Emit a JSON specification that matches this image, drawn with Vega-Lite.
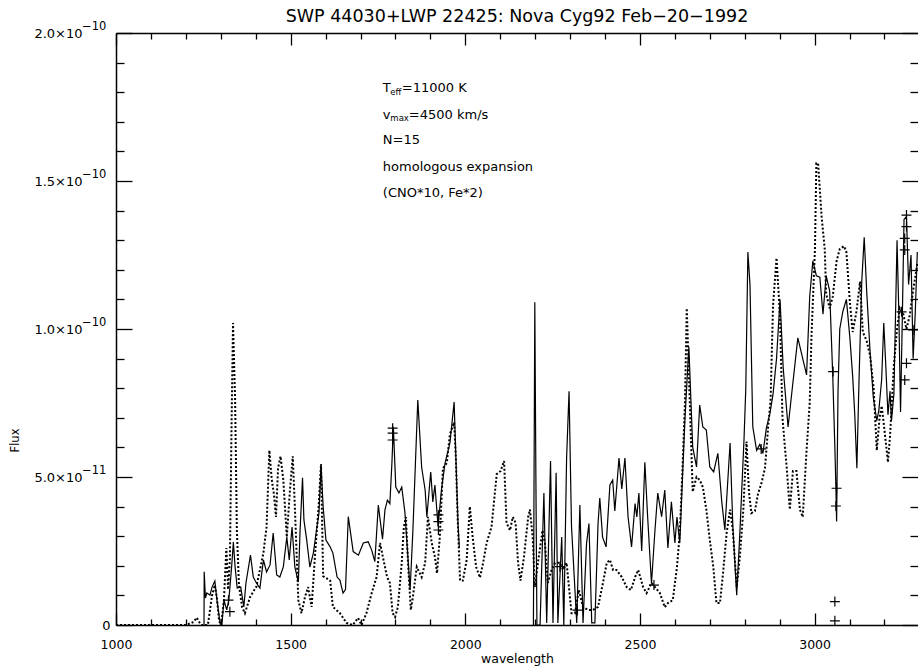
{
  "$schema": "https://vega.github.io/schema/vega-lite/v6.json",
  "width": 802,
  "height": 592,
  "autosize": {"type": "none"},
  "padding": {"left": 116, "top": 33, "right": 0, "bottom": 44},
  "background": "white",
  "title": {
    "text": "SWP 44030+LWP 22425: Nova Cyg92 Feb−20−1992",
    "anchor": "middle",
    "font": "DejaVu Sans",
    "fontSize": 17.5,
    "fontWeight": "normal",
    "color": "black",
    "baseline": "alphabetic",
    "offset": -18
  },
  "config": {
    "view": {"stroke": null},
    "axis": {
      "grid": false,
      "domainColor": "black",
      "tickColor": "black",
      "labelColor": "black",
      "titleColor": "black",
      "labelFont": "DejaVu Sans",
      "titleFont": "DejaVu Sans",
      "titleFontWeight": "normal",
      "labelFlush": false,
      "labelOverlap": false,
      "domainWidth": 1.5,
      "tickWidth": 1.3
    }
  },
  "datasets": {
    "model": [
      {"wl":1000,"flux":0},{"wl":1100,"flux":0},{"wl":1200,"flux":0},{"wl":1222,"flux":1e-12},{"wl":1231,"flux":2.5e-12},{"wl":1238,"flux":1e-12},{"wl":1245,"flux":0},{"wl":1263,"flux":0},{"wl":1275,"flux":1.0e-11},{"wl":1283,"flux":1.35e-11},{"wl":1289,"flux":9e-12},{"wl":1295,"flux":1.5e-12},{"wl":1300,"flux":0},{"wl":1305,"flux":4e-12},{"wl":1309,"flux":8.5e-12},{"wl":1316,"flux":2.6e-11},{"wl":1321,"flux":1.2e-11},{"wl":1326,"flux":2.2e-11},{"wl":1331,"flux":6.93e-11},{"wl":1335,"flux":1.02e-10},{"wl":1341,"flux":7.6e-11},{"wl":1346,"flux":3.2e-11},{"wl":1352,"flux":1.35e-11},{"wl":1361,"flux":6e-12},{"wl":1369,"flux":4e-12},{"wl":1384,"flux":9.5e-12},{"wl":1402,"flux":1.3e-11},{"wl":1412,"flux":1.86e-11},{"wl":1422,"flux":2.43e-11},{"wl":1431,"flux":3.31e-11},{"wl":1439,"flux":5.9e-11},{"wl":1446,"flux":4.9e-11},{"wl":1452,"flux":4.43e-11},{"wl":1458,"flux":3.65e-11},{"wl":1464,"flux":5.3e-11},{"wl":1471,"flux":5.7e-11},{"wl":1479,"flux":4.9e-11},{"wl":1489,"flux":2.97e-11},{"wl":1498,"flux":4.56e-11},{"wl":1506,"flux":5.7e-11},{"wl":1512,"flux":4.0e-11},{"wl":1522,"flux":8.4e-12},{"wl":1531,"flux":4e-12},{"wl":1541,"flux":9.5e-12},{"wl":1550,"flux":1.28e-11},{"wl":1560,"flux":6.1e-12},{"wl":1570,"flux":2.4e-11},{"wl":1580,"flux":4.0e-11},{"wl":1587,"flux":5.44e-11},{"wl":1593,"flux":1.65e-11},{"wl":1613,"flux":1.5e-11},{"wl":1621,"flux":6.1e-12},{"wl":1641,"flux":4e-12},{"wl":1660,"flux":7e-13},{"wl":1678,"flux":0},{"wl":1693,"flux":2.4e-12},{"wl":1703,"flux":0},{"wl":1717,"flux":4e-12},{"wl":1732,"flux":1.08e-11},{"wl":1746,"flux":1.62e-11},{"wl":1756,"flux":2.77e-11},{"wl":1764,"flux":2.3e-11},{"wl":1776,"flux":1.62e-11},{"wl":1784,"flux":1.42e-11},{"wl":1792,"flux":4e-12},{"wl":1799,"flux":2.7e-12},{"wl":1807,"flux":6.1e-12},{"wl":1818,"flux":2.1e-11},{"wl":1824,"flux":3.31e-11},{"wl":1830,"flux":3.65e-11},{"wl":1836,"flux":2.1e-11},{"wl":1844,"flux":5.1e-12},{"wl":1850,"flux":9.5e-12},{"wl":1861,"flux":1.96e-11},{"wl":1875,"flux":1.62e-11},{"wl":1885,"flux":2.1e-11},{"wl":1893,"flux":3.65e-11},{"wl":1904,"flux":2.77e-11},{"wl":1913,"flux":2.3e-11},{"wl":1919,"flux":1.75e-11},{"wl":1927,"flux":2.97e-11},{"wl":1936,"flux":5.3e-11},{"wl":1947,"flux":5.47e-11},{"wl":1956,"flux":6.45e-11},{"wl":1968,"flux":6.85e-11},{"wl":1973,"flux":5.64e-11},{"wl":1978,"flux":3.65e-11},{"wl":1985,"flux":1.5e-11},{"wl":1993,"flux":1.5e-11},{"wl":2004,"flux":2.2e-11},{"wl":2013,"flux":4.0e-11},{"wl":2021,"flux":2.97e-11},{"wl":2031,"flux":1.96e-11},{"wl":2042,"flux":1.6e-11},{"wl":2051,"flux":2.1e-11},{"wl":2061,"flux":2.77e-11},{"wl":2075,"flux":3.31e-11},{"wl":2090,"flux":5.1e-11},{"wl":2101,"flux":5.2e-11},{"wl":2111,"flux":5.54e-11},{"wl":2118,"flux":3.45e-11},{"wl":2128,"flux":3.2e-11},{"wl":2136,"flux":3.65e-11},{"wl":2144,"flux":3.45e-11},{"wl":2151,"flux":2.1e-11},{"wl":2158,"flux":1.5e-11},{"wl":2168,"flux":2.3e-11},{"wl":2180,"flux":3.65e-11},{"wl":2185,"flux":3.9e-11},{"wl":2193,"flux":2.97e-11},{"wl":2199,"flux":1.28e-11},{"wl":2208,"flux":2.1e-11},{"wl":2221,"flux":3.2e-11},{"wl":2228,"flux":2.77e-11},{"wl":2236,"flux":1.42e-11},{"wl":2247,"flux":1.86e-11},{"wl":2257,"flux":2.1e-11},{"wl":2271,"flux":2.1e-11},{"wl":2280,"flux":1.86e-11},{"wl":2290,"flux":2.1e-11},{"wl":2304,"flux":4e-12},{"wl":2314,"flux":4e-12},{"wl":2325,"flux":1.18e-11},{"wl":2337,"flux":6.1e-12},{"wl":2351,"flux":5.1e-12},{"wl":2365,"flux":5.1e-12},{"wl":2380,"flux":6.1e-12},{"wl":2394,"flux":1.42e-11},{"wl":2405,"flux":2.1e-11},{"wl":2414,"flux":2.2e-11},{"wl":2423,"flux":1.86e-11},{"wl":2433,"flux":1.86e-11},{"wl":2448,"flux":1.62e-11},{"wl":2462,"flux":1.28e-11},{"wl":2474,"flux":1.18e-11},{"wl":2486,"flux":1.62e-11},{"wl":2495,"flux":1.86e-11},{"wl":2509,"flux":1.28e-11},{"wl":2519,"flux":1.08e-11},{"wl":2533,"flux":1.42e-11},{"wl":2543,"flux":1.28e-11},{"wl":2557,"flux":1.08e-11},{"wl":2571,"flux":6e-12},{"wl":2580,"flux":7.4e-12},{"wl":2594,"flux":8.4e-12},{"wl":2606,"flux":1.96e-11},{"wl":2614,"flux":3.1e-11},{"wl":2622,"flux":5.34e-11},{"wl":2629,"flux":7.6e-11},{"wl":2634,"flux":1.07e-10},{"wl":2643,"flux":7.4e-11},{"wl":2651,"flux":4.5e-11},{"wl":2662,"flux":5.0e-11},{"wl":2671,"flux":4.9e-11},{"wl":2680,"flux":4.66e-11},{"wl":2690,"flux":3.9e-11},{"wl":2700,"flux":2.87e-11},{"wl":2710,"flux":1.96e-11},{"wl":2719,"flux":7.4e-12},{"wl":2729,"flux":7.4e-12},{"wl":2738,"flux":1.76e-11},{"wl":2748,"flux":3.1e-11},{"wl":2758,"flux":3.9e-11},{"wl":2766,"flux":3.2e-11},{"wl":2777,"flux":1.28e-11},{"wl":2786,"flux":2.3e-11},{"wl":2796,"flux":3.9e-11},{"wl":2805,"flux":6.2e-11},{"wl":2812,"flux":4.5e-11},{"wl":2819,"flux":3.78e-11},{"wl":2829,"flux":3.85e-11},{"wl":2838,"flux":4.43e-11},{"wl":2848,"flux":4.8e-11},{"wl":2858,"flux":5.3e-11},{"wl":2867,"flux":6.7e-11},{"wl":2874,"flux":7.6e-11},{"wl":2881,"flux":1.08e-10},{"wl":2891,"flux":1.24e-10},{"wl":2901,"flux":1.04e-10},{"wl":2908,"flux":7.0e-11},{"wl":2915,"flux":6.0e-11},{"wl":2920,"flux":5.34e-11},{"wl":2929,"flux":3.9e-11},{"wl":2938,"flux":5.2e-11},{"wl":2948,"flux":5.2e-11},{"wl":2958,"flux":3.9e-11},{"wl":2966,"flux":3.65e-11},{"wl":2977,"flux":5.9e-11},{"wl":2986,"flux":7.5e-11},{"wl":2991,"flux":9.74e-11},{"wl":3001,"flux":1.27e-10},{"wl":3005,"flux":1.56e-10},{"wl":3010,"flux":1.56e-10},{"wl":3020,"flux":1.38e-10},{"wl":3029,"flux":1.27e-10},{"wl":3033,"flux":1.12e-10},{"wl":3043,"flux":1.07e-10},{"wl":3052,"flux":1.11e-10},{"wl":3063,"flux":1.23e-10},{"wl":3072,"flux":1.27e-10},{"wl":3084,"flux":1.28e-10},{"wl":3091,"flux":1.26e-10},{"wl":3101,"flux":1.09e-10},{"wl":3109,"flux":9.9e-11},{"wl":3120,"flux":1.06e-10},{"wl":3130,"flux":1.16e-10},{"wl":3138,"flux":9.9e-11},{"wl":3149,"flux":9.6e-11},{"wl":3159,"flux":9.1e-11},{"wl":3169,"flux":8.0e-11},{"wl":3178,"flux":5.9e-11},{"wl":3186,"flux":7.0e-11},{"wl":3192,"flux":7.4e-11},{"wl":3198,"flux":6.8e-11},{"wl":3210,"flux":5.5e-11},{"wl":3216,"flux":6.4e-11},{"wl":3227,"flux":8.8e-11},{"wl":3236,"flux":1.0e-10},{"wl":3244,"flux":1.07e-10},{"wl":3254,"flux":1.05e-10},{"wl":3263,"flux":1.0e-10},{"wl":3273,"flux":1.05e-10},{"wl":3282,"flux":1.13e-10},{"wl":3294,"flux":1.22e-10}
    ],
    "obs": [
      {"seg":"SWP","wl":1252,"flux":0},{"seg":"SWP","wl":1252.5,"flux":1.8e-11},{"seg":"SWP","wl":1256,"flux":9.1e-12},{"seg":"SWP","wl":1260,"flux":1.08e-11},{"seg":"SWP","wl":1269,"flux":1.01e-11},{"seg":"SWP","wl":1275,"flux":1.28e-11},{"seg":"SWP","wl":1283,"flux":1.49e-11},{"seg":"SWP","wl":1289,"flux":8.4e-12},{"seg":"SWP","wl":1298,"flux":7e-13},{"seg":"SWP","wl":1303,"flux":0},{"seg":"SWP","wl":1309,"flux":8.4e-12},{"seg":"SWP","wl":1317,"flux":5.1e-12},{"seg":"SWP","wl":1323,"flux":8.4e-12},{"seg":"SWP","wl":1331,"flux":1.96e-11},{"seg":"SWP","wl":1336,"flux":2.8e-11},{"seg":"SWP","wl":1341,"flux":1.96e-11},{"seg":"SWP","wl":1347,"flux":1.25e-11},{"seg":"SWP","wl":1357,"flux":1.28e-11},{"seg":"SWP","wl":1366,"flux":6.1e-12},{"seg":"SWP","wl":1372,"flux":1.42e-11},{"seg":"SWP","wl":1385,"flux":2.36e-11},{"seg":"SWP","wl":1393,"flux":1.62e-11},{"seg":"SWP","wl":1402,"flux":1.42e-11},{"seg":"SWP","wl":1412,"flux":1.25e-11},{"seg":"SWP","wl":1422,"flux":2.2e-11},{"seg":"SWP","wl":1431,"flux":1.79e-11},{"seg":"SWP","wl":1441,"flux":2.03e-11},{"seg":"SWP","wl":1450,"flux":3.11e-11},{"seg":"SWP","wl":1460,"flux":1.69e-11},{"seg":"SWP","wl":1469,"flux":1.62e-11},{"seg":"SWP","wl":1479,"flux":1.96e-11},{"seg":"SWP","wl":1489,"flux":2.97e-11},{"seg":"SWP","wl":1496,"flux":2.2e-11},{"seg":"SWP","wl":1504,"flux":3.31e-11},{"seg":"SWP","wl":1512,"flux":1.96e-11},{"seg":"SWP","wl":1522,"flux":1.45e-11},{"seg":"SWP","wl":1527,"flux":3.2e-11},{"seg":"SWP","wl":1534,"flux":4.97e-11},{"seg":"SWP","wl":1538,"flux":3.55e-11},{"seg":"SWP","wl":1546,"flux":2.87e-11},{"seg":"SWP","wl":1555,"flux":1.96e-11},{"seg":"SWP","wl":1565,"flux":2.43e-11},{"seg":"SWP","wl":1574,"flux":3.2e-11},{"seg":"SWP","wl":1581,"flux":3.78e-11},{"seg":"SWP","wl":1587,"flux":5.4e-11},{"seg":"SWP","wl":1593,"flux":4.0e-11},{"seg":"SWP","wl":1601,"flux":2.87e-11},{"seg":"SWP","wl":1613,"flux":2.64e-11},{"seg":"SWP","wl":1621,"flux":2.43e-11},{"seg":"SWP","wl":1633,"flux":1.62e-11},{"seg":"SWP","wl":1641,"flux":1.52e-11},{"seg":"SWP","wl":1650,"flux":1.08e-11},{"seg":"SWP","wl":1657,"flux":1.2e-11},{"seg":"SWP","wl":1665,"flux":3.66e-11},{"seg":"SWP","wl":1679,"flux":2.48e-11},{"seg":"SWP","wl":1694,"flux":2.36e-11},{"seg":"SWP","wl":1708,"flux":2.77e-11},{"seg":"SWP","wl":1722,"flux":2.81e-11},{"seg":"SWP","wl":1732,"flux":2.53e-11},{"seg":"SWP","wl":1741,"flux":2.14e-11},{"seg":"SWP","wl":1751,"flux":4.05e-11},{"seg":"SWP","wl":1763,"flux":2.9e-11},{"seg":"SWP","wl":1770,"flux":3.89e-11},{"seg":"SWP","wl":1777,"flux":4.22e-11},{"seg":"SWP","wl":1784,"flux":4.1e-11},{"seg":"SWP","wl":1790,"flux":5.5e-11},{"seg":"SWP","wl":1794,"flux":6.7e-11},{"seg":"SWP","wl":1801,"flux":4.66e-11},{"seg":"SWP","wl":1810,"flux":4.46e-11},{"seg":"SWP","wl":1818,"flux":4.66e-11},{"seg":"SWP","wl":1827,"flux":3.82e-11},{"seg":"SWP","wl":1842,"flux":1.18e-11},{"seg":"SWP","wl":1850,"flux":3.21e-11},{"seg":"SWP","wl":1864,"flux":7.6e-11},{"seg":"SWP","wl":1875,"flux":5.33e-11},{"seg":"SWP","wl":1885,"flux":4.56e-11},{"seg":"SWP","wl":1890,"flux":3.65e-11},{"seg":"SWP","wl":1901,"flux":5.17e-11},{"seg":"SWP","wl":1907,"flux":4.16e-11},{"seg":"SWP","wl":1913,"flux":4.73e-11},{"seg":"SWP","wl":1922,"flux":3.34e-11},{"seg":"SWP","wl":1932,"flux":4.6e-11},{"seg":"SWP","wl":1942,"flux":5.47e-11},{"seg":"SWP","wl":1956,"flux":6.15e-11},{"seg":"SWP","wl":1968,"flux":7.53e-11},{"seg":"SWP","wl":1979,"flux":3.45e-11},{"seg":"SWP","wl":1983,"flux":2.6e-11},
      {"seg":"LWP","wl":2195,"flux":0},{"seg":"LWP","wl":2199,"flux":1.09e-10},{"seg":"LWP","wl":2202,"flux":5.1e-11},{"seg":"LWP","wl":2205,"flux":0},{"seg":"LWP","wl":2214,"flux":0},{"seg":"LWP","wl":2225,"flux":4.46e-11},{"seg":"LWP","wl":2233,"flux":7e-13},{"seg":"LWP","wl":2244,"flux":5.54e-11},{"seg":"LWP","wl":2251,"flux":7e-13},{"seg":"LWP","wl":2260,"flux":5.14e-11},{"seg":"LWP","wl":2265,"flux":7e-13},{"seg":"LWP","wl":2276,"flux":2.97e-11},{"seg":"LWP","wl":2282,"flux":0},{"seg":"LWP","wl":2290,"flux":5.64e-11},{"seg":"LWP","wl":2297,"flux":7.9e-11},{"seg":"LWP","wl":2304,"flux":3.34e-11},{"seg":"LWP","wl":2319,"flux":7e-13},{"seg":"LWP","wl":2328,"flux":4.05e-11},{"seg":"LWP","wl":2337,"flux":7e-13},{"seg":"LWP","wl":2347,"flux":2.74e-11},{"seg":"LWP","wl":2354,"flux":3.43e-11},{"seg":"LWP","wl":2362,"flux":7e-13},{"seg":"LWP","wl":2371,"flux":7e-13},{"seg":"LWP","wl":2380,"flux":3.43e-11},{"seg":"LWP","wl":2385,"flux":4.29e-11},{"seg":"LWP","wl":2393,"flux":2.97e-11},{"seg":"LWP","wl":2403,"flux":2.64e-11},{"seg":"LWP","wl":2414,"flux":4.73e-11},{"seg":"LWP","wl":2422,"flux":4.9e-11},{"seg":"LWP","wl":2428,"flux":3.85e-11},{"seg":"LWP","wl":2440,"flux":5.64e-11},{"seg":"LWP","wl":2448,"flux":4.6e-11},{"seg":"LWP","wl":2457,"flux":5.64e-11},{"seg":"LWP","wl":2466,"flux":3.65e-11},{"seg":"LWP","wl":2476,"flux":2.64e-11},{"seg":"LWP","wl":2486,"flux":4.1e-11},{"seg":"LWP","wl":2491,"flux":3.65e-11},{"seg":"LWP","wl":2497,"flux":4.46e-11},{"seg":"LWP","wl":2505,"flux":2.5e-11},{"seg":"LWP","wl":2514,"flux":5.5e-11},{"seg":"LWP","wl":2522,"flux":3.65e-11},{"seg":"LWP","wl":2533,"flux":1.4e-11},{"seg":"LWP","wl":2543,"flux":3.21e-11},{"seg":"LWP","wl":2551,"flux":4.46e-11},{"seg":"LWP","wl":2562,"flux":3.66e-11},{"seg":"LWP","wl":2571,"flux":4.56e-11},{"seg":"LWP","wl":2580,"flux":2.6e-11},{"seg":"LWP","wl":2590,"flux":4.16e-11},{"seg":"LWP","wl":2600,"flux":2.77e-11},{"seg":"LWP","wl":2606,"flux":3.65e-11},{"seg":"LWP","wl":2614,"flux":2.77e-11},{"seg":"LWP","wl":2623,"flux":5.34e-11},{"seg":"LWP","wl":2629,"flux":7.0e-11},{"seg":"LWP","wl":2640,"flux":9.4e-11},{"seg":"LWP","wl":2651,"flux":6.01e-11},{"seg":"LWP","wl":2662,"flux":5.34e-11},{"seg":"LWP","wl":2671,"flux":7.43e-11},{"seg":"LWP","wl":2680,"flux":6.69e-11},{"seg":"LWP","wl":2690,"flux":6.59e-11},{"seg":"LWP","wl":2700,"flux":5.34e-11},{"seg":"LWP","wl":2711,"flux":5.17e-11},{"seg":"LWP","wl":2723,"flux":5.8e-11},{"seg":"LWP","wl":2734,"flux":4.19e-11},{"seg":"LWP","wl":2743,"flux":3.21e-11},{"seg":"LWP","wl":2758,"flux":6.15e-11},{"seg":"LWP","wl":2766,"flux":3.3e-11},{"seg":"LWP","wl":2777,"flux":1.01e-11},{"seg":"LWP","wl":2786,"flux":3.11e-11},{"seg":"LWP","wl":2798,"flux":6.3e-11},{"seg":"LWP","wl":2803,"flux":8.0e-11},{"seg":"LWP","wl":2809,"flux":1.26e-10},{"seg":"LWP","wl":2815,"flux":1.15e-10},{"seg":"LWP","wl":2823,"flux":6.7e-11},{"seg":"LWP","wl":2834,"flux":5.9e-11},{"seg":"LWP","wl":2843,"flux":6.1e-11},{"seg":"LWP","wl":2852,"flux":5.8e-11},{"seg":"LWP","wl":2862,"flux":6.66e-11},{"seg":"LWP","wl":2872,"flux":7.14e-11},{"seg":"LWP","wl":2881,"flux":7.8e-11},{"seg":"LWP","wl":2891,"flux":9.0e-11},{"seg":"LWP","wl":2901,"flux":1.1e-10},{"seg":"LWP","wl":2910,"flux":8.7e-11},{"seg":"LWP","wl":2924,"flux":6.69e-11},{"seg":"LWP","wl":2938,"flux":8.2e-11},{"seg":"LWP","wl":2952,"flux":9.7e-11},{"seg":"LWP","wl":2966,"flux":9.0e-11},{"seg":"LWP","wl":2977,"flux":8.45e-11},{"seg":"LWP","wl":2986,"flux":1.11e-10},{"seg":"LWP","wl":2995,"flux":1.23e-10},{"seg":"LWP","wl":3005,"flux":1.18e-10},{"seg":"LWP","wl":3015,"flux":1.175e-10},{"seg":"LWP","wl":3024,"flux":1.05e-10},{"seg":"LWP","wl":3033,"flux":1.18e-10},{"seg":"LWP","wl":3043,"flux":1.13e-10},{"seg":"LWP","wl":3048,"flux":9.7e-11},{"seg":"LWP","wl":3052,"flux":8.4e-11},{"seg":"LWP","wl":3058,"flux":6.0e-11},{"seg":"LWP","wl":3061,"flux":4.6e-11},{"seg":"LWP","wl":3063,"flux":3.5e-11},{"seg":"LWP","wl":3067,"flux":7.9e-11},{"seg":"LWP","wl":3072,"flux":1.0e-10},{"seg":"LWP","wl":3081,"flux":1.06e-10},{"seg":"LWP","wl":3091,"flux":1.1e-10},{"seg":"LWP","wl":3101,"flux":9.7e-11},{"seg":"LWP","wl":3109,"flux":8.4e-11},{"seg":"LWP","wl":3115,"flux":7.1e-11},{"seg":"LWP","wl":3121,"flux":5.3e-11},{"seg":"LWP","wl":3127,"flux":8.2e-11},{"seg":"LWP","wl":3135,"flux":1.16e-10},{"seg":"LWP","wl":3142,"flux":1.31e-10},{"seg":"LWP","wl":3149,"flux":1.13e-10},{"seg":"LWP","wl":3159,"flux":9.2e-11},{"seg":"LWP","wl":3168,"flux":7.7e-11},{"seg":"LWP","wl":3178,"flux":6.9e-11},{"seg":"LWP","wl":3184,"flux":7.26e-11},{"seg":"LWP","wl":3192,"flux":8.3e-11},{"seg":"LWP","wl":3198,"flux":1.02e-10},{"seg":"LWP","wl":3204,"flux":8.7e-11},{"seg":"LWP","wl":3210,"flux":7.1e-11},{"seg":"LWP","wl":3216,"flux":7.9e-11},{"seg":"LWP","wl":3220,"flux":6.9e-11},{"seg":"LWP","wl":3227,"flux":7.8e-11},{"seg":"LWP","wl":3236,"flux":1.3e-10},{"seg":"LWP","wl":3241,"flux":1.06e-10},{"seg":"LWP","wl":3246,"flux":7.2e-11},{"seg":"LWP","wl":3251,"flux":1.03e-10},{"seg":"LWP","wl":3256,"flux":1.37e-10},{"seg":"LWP","wl":3263,"flux":1.38e-10},{"seg":"LWP","wl":3269,"flux":1.15e-10},{"seg":"LWP","wl":3276,"flux":1.25e-10},{"seg":"LWP","wl":3282,"flux":9.0e-11},{"seg":"LWP","wl":3288,"flux":1.05e-10},{"seg":"LWP","wl":3294,"flux":1.26e-10}
    ],
    "flagged": [
      {"wl":1322,"flux":8.4e-12},{"wl":1326,"flux":4.5e-12},{"wl":1792,"flux":6.65e-11},{"wl":1792,"flux":6.48e-11},{"wl":1792,"flux":6.25e-11},{"wl":1923,"flux":3.72e-11},{"wl":1923,"flux":3.49e-11},{"wl":1923,"flux":3.21e-11},{"wl":2271,"flux":1.97e-11},{"wl":2321,"flux":5e-12},{"wl":2540,"flux":1.35e-11},{"wl":2847,"flux":5.95e-11},{"wl":3053,"flux":8.56e-11},{"wl":3063,"flux":4.62e-11},{"wl":3061,"flux":4.02e-11},{"wl":3058,"flux":7.9e-12},{"wl":3058,"flux":1.4e-12},{"wl":3263,"flux":1.385e-10},{"wl":3263,"flux":1.346e-10},{"wl":3258,"flux":1.306e-10},{"wl":3258,"flux":1.267e-10},{"wl":3249,"flux":1.058e-10},{"wl":3282,"flux":9.97e-11},{"wl":3263,"flux":8.84e-11},{"wl":3258,"flux":8.28e-11}
    ],
    "exponents": [
      {"wl":1000,"flux":5e-11,"exp":"−11"},
      {"wl":1000,"flux":1e-10,"exp":"−10"},
      {"wl":1000,"flux":1.5e-10,"exp":"−10"},
      {"wl":1000,"flux":2e-10,"exp":"−10"}
    ],
    "notes": [
      {"wl":1764,"flux":1.814e-10,"part":"main","label":"T"},
      {"wl":1764,"flux":1.723e-10,"part":"main","label":"v"},
      {"wl":1764,"flux":1.639e-10,"part":"main","label":"N=15"},
      {"wl":1764,"flux":1.547e-10,"part":"main","label":"homologous expansion"},
      {"wl":1764,"flux":1.459e-10,"part":"main","label":"(CNO*10, Fe*2)"},
      {"wl":1764,"flux":1.814e-10,"part":"sub","label":"eff"},
      {"wl":1764,"flux":1.723e-10,"part":"sub","label":"max"},
      {"wl":1764,"flux":1.814e-10,"part":"rest1","label":"=11000 K"},
      {"wl":1764,"flux":1.723e-10,"part":"rest2","label":"=4500 km/s"}
    ]
  },
  "resolve": {"axis": {"x": "independent", "y": "independent"}},
  "layer": [
    {
      "data": {"name": "model"},
      "mark": {"type": "line", "color": "black", "strokeWidth": 2, "strokeDash": [2, 2], "clip": true},
      "encoding": {
        "x": {"field": "wl", "type": "quantitative", "scale": {"domain": [1000, 3296], "nice": false, "zero": false},
          "axis": {"orient": "bottom", "values": [1000, 1500, 2000, 2500, 3000], "format": "d", "tickSize": -12, "labelPadding": 25, "labelFontSize": 12.5, "domain": true, "labels": true,
            "title": "wavelength", "titleFontSize": 12.5, "titleX": 401, "titleY": 37, "titleBaseline": "alphabetic", "titleAlign": "center"}},
        "y": {"field": "flux", "type": "quantitative", "scale": {"domain": [0, 2e-10], "nice": false, "zero": false},
          "axis": {"orient": "left", "values": [0, 5e-11, 1e-10, 1.5e-10, 2e-10], "tickSize": -16,
            "labelPadding": {"condition": {"test": "datum.value == 0", "value": 22}, "value": 50},
            "labelFontSize": 13, "domain": true,
            "labelExpr": "datum.value == 0 ? '0' : (datum.value < 9.9e-11 ? format(datum.value*1e11, '.1f') + '×10' : format(datum.value*1e10, '.1f') + '×10')",
            "title": "Flux", "titleFontSize": 11.5, "titleAngle": 270, "titleX": -101, "titleY": 407, "titleAlign": "center", "titleBaseline": "middle"}}
      }
    },
    {
      "data": {"name": "obs"},
      "mark": {"type": "line", "color": "black", "strokeWidth": 1.2, "clip": true},
      "encoding": {
        "x": {"field": "wl", "type": "quantitative", "scale": {"domain": [1000, 3296], "nice": false, "zero": false},
          "axis": {"orient": "bottom", "values": [1100, 1200, 1300, 1400, 1600, 1700, 1800, 1900, 2100, 2200, 2300, 2400, 2600, 2700, 2800, 2900, 3100, 3200], "tickSize": -6, "labels": false, "domain": false, "title": null}},
        "y": {"field": "flux", "type": "quantitative", "scale": {"domain": [0, 2e-10], "nice": false, "zero": false},
          "axis": {"orient": "left", "values": [1e-11, 2e-11, 3e-11, 4e-11, 6e-11, 7e-11, 8e-11, 9e-11, 1.1e-10, 1.2e-10, 1.3e-10, 1.4e-10, 1.6e-10, 1.7e-10, 1.8e-10, 1.9e-10], "tickSize": -8, "labels": false, "domain": false, "title": null}},
        "detail": {"field": "seg", "type": "nominal"}
      }
    },
    {
      "data": {"name": "flagged"},
      "mark": {"type": "point", "shape": "M-1,0L1,0M0,-1L0,1", "size": 100, "filled": false, "stroke": "black", "strokeWidth": 1.2, "opacity": 1},
      "encoding": {
        "x": {"field": "wl", "type": "quantitative", "scale": {"domain": [1000, 3296], "nice": false, "zero": false},
          "axis": {"orient": "top", "values": [1000, 1500, 2000, 2500, 3000], "tickSize": -12, "labels": false, "domain": true, "title": null}},
        "y": {"field": "flux", "type": "quantitative", "scale": {"domain": [0, 2e-10], "nice": false, "zero": false},
          "axis": {"orient": "right", "values": [0, 5e-11, 1e-10, 1.5e-10, 2e-10], "tickSize": -16, "labels": false, "domain": false, "title": null}}
      }
    },
    {
      "data": {"name": "notes"},
      "transform": [{"filter": "datum.part == 'main'"}],
      "mark": {"type": "text", "align": "left", "baseline": "middle", "font": "DejaVu Sans", "fontSize": 13, "color": "black"},
      "encoding": {
        "x": {"field": "wl", "type": "quantitative", "scale": {"domain": [1000, 3296], "nice": false, "zero": false},
          "axis": {"orient": "top", "values": [1100, 1200, 1300, 1400, 1600, 1700, 1800, 1900, 2100, 2200, 2300, 2400, 2600, 2700, 2800, 2900, 3100, 3200], "tickSize": -6, "labels": false, "domain": false, "title": null}},
        "y": {"field": "flux", "type": "quantitative", "scale": {"domain": [0, 2e-10], "nice": false, "zero": false},
          "axis": {"orient": "right", "values": [1e-11, 2e-11, 3e-11, 4e-11, 6e-11, 7e-11, 8e-11, 9e-11, 1.1e-10, 1.2e-10, 1.3e-10, 1.4e-10, 1.6e-10, 1.7e-10, 1.8e-10, 1.9e-10], "tickSize": -8, "labels": false, "domain": false, "title": null}},
        "text": {"field": "label"}
      }
    },
    {
      "data": {"name": "notes"},
      "transform": [{"filter": "datum.part == 'sub'"}],
      "mark": {"type": "text", "align": "left", "baseline": "middle", "font": "DejaVu Sans", "fontSize": 8.5, "dx": 7.5, "dy": 3.5, "color": "black"},
      "encoding": {
        "x": {"field": "wl", "type": "quantitative", "axis": null},
        "y": {"field": "flux", "type": "quantitative", "axis": null},
        "text": {"field": "label"}
      }
    },
    {
      "data": {"name": "notes"},
      "transform": [{"filter": "datum.part == 'rest1'"}],
      "mark": {"type": "text", "align": "left", "baseline": "middle", "font": "DejaVu Sans", "fontSize": 13, "dx": 19, "color": "black"},
      "encoding": {
        "x": {"field": "wl", "type": "quantitative", "axis": null},
        "y": {"field": "flux", "type": "quantitative", "axis": null},
        "text": {"field": "label"}
      }
    },
    {
      "data": {"name": "notes"},
      "transform": [{"filter": "datum.part == 'rest2'"}],
      "mark": {"type": "text", "align": "left", "baseline": "middle", "font": "DejaVu Sans", "fontSize": 13, "dx": 26, "color": "black"},
      "encoding": {
        "x": {"field": "wl", "type": "quantitative", "axis": null},
        "y": {"field": "flux", "type": "quantitative", "axis": null},
        "text": {"field": "label"}
      }
    },
    {
      "data": {"name": "exponents"},
      "mark": {"type": "text", "align": "left", "baseline": "middle", "font": "DejaVu Sans", "fontSize": 11.5, "dx": -34, "dy": -6, "color": "black", "clip": false},
      "encoding": {
        "x": {"field": "wl", "type": "quantitative", "axis": null},
        "y": {"field": "flux", "type": "quantitative", "axis": null},
        "text": {"field": "exp"}
      }
    }
  ]
}
